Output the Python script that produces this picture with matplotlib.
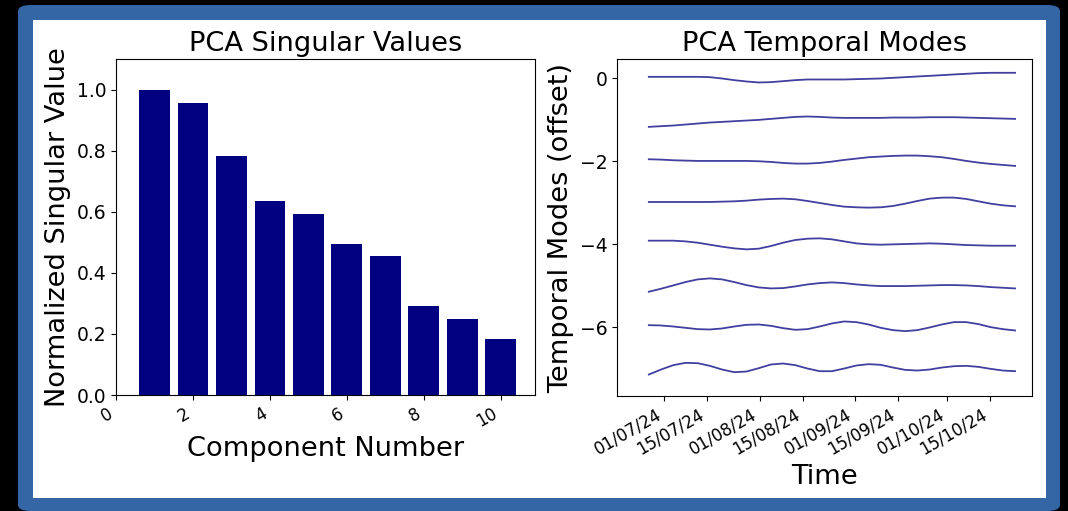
import numpy as np
import pandas as pd
import matplotlib
matplotlib.use("Agg")
import matplotlib.pyplot as plt
import matplotlib.dates as mdates
from matplotlib.patches import FancyBboxPatch, Rectangle

# singular values (normalized)
components = [1, 2, 3, 4, 5, 6, 7, 8, 9, 10]
singular_vals = [1.0, 0.957, 0.783, 0.634, 0.594, 0.495, 0.456, 0.293, 0.249, 0.184]

# temporal modes, sampled every ~4 days
dates = pd.date_range("2024-06-26", "2024-10-23", periods=31)

mode0 = [0.031, 0.031, 0.031, 0.031, 0.031, 0.023, -0.009, -0.049, -0.081, -0.105,
         -0.097, -0.073, -0.049, -0.033, -0.033, -0.033, -0.033, -0.025, -0.017, -0.009,
         0.007, 0.023, 0.039, 0.055, 0.071, 0.088, 0.104, 0.120, 0.128, 0.128, 0.128]
mode1 = [-0.173, -0.157, -0.141, -0.117, -0.093, -0.069, -0.053, -0.037, -0.021, -0.005,
         0.019, 0.043, 0.067, 0.076, 0.067, 0.051, 0.043, 0.043, 0.043, 0.043,
         0.051, 0.051, 0.051, 0.059, 0.059, 0.059, 0.051, 0.043, 0.035, 0.027, 0.019]
mode2 = [0.047, 0.039, 0.023, 0.015, 0.007, 0.007, 0.007, 0.007, 0.007, -0.001,
         -0.017, -0.041, -0.057, -0.057, -0.041, -0.009, 0.031, 0.063, 0.096, 0.112,
         0.128, 0.136, 0.136, 0.120, 0.096, 0.055, 0.007, -0.033, -0.065, -0.089, -0.113]
mode3 = [0.019, 0.019, 0.019, 0.019, 0.019, 0.019, 0.027, 0.035, 0.051, 0.076,
         0.092, 0.100, 0.084, 0.043, -0.005, -0.053, -0.093, -0.109, -0.117, -0.109,
         -0.077, -0.021, 0.043, 0.100, 0.124, 0.124, 0.092, 0.035, -0.021, -0.061, -0.085]
mode4 = [0.088, 0.088, 0.088, 0.071, 0.039, -0.009, -0.057, -0.097, -0.121, -0.105,
         -0.041, 0.039, 0.104, 0.136, 0.144, 0.120, 0.071, 0.023, -0.001, -0.009,
         -0.001, 0.007, 0.015, 0.023, 0.015, -0.001, -0.017, -0.025, -0.033, -0.033, -0.033]
mode5 = [-0.141, -0.069, 0.011, 0.092, 0.156, 0.180, 0.156, 0.092, 0.019, -0.037,
         -0.061, -0.053, -0.013, 0.035, 0.067, 0.084, 0.067, 0.035, 0.011, -0.005,
         -0.005, -0.005, 0.003, 0.011, 0.019, 0.019, 0.011, -0.005, -0.029, -0.045, -0.061]
mode6 = [0.055, 0.047, 0.023, -0.009, -0.041, -0.049, -0.025, 0.023, 0.063, 0.071,
         0.039, -0.017, -0.057, -0.041, 0.023, 0.096, 0.144, 0.128, 0.071, -0.009,
         -0.065, -0.089, -0.065, -0.001, 0.071, 0.128, 0.128, 0.080, 0.007, -0.041, -0.073]
mode7 = [-0.133, -0.013, 0.092, 0.148, 0.140, 0.076, -0.013, -0.077, -0.061, 0.019,
         0.108, 0.132, 0.092, 0.011, -0.053, -0.053, 0.011, 0.084, 0.116, 0.100,
         0.035, -0.021, -0.037, -0.013, 0.035, 0.067, 0.076, 0.051, 0.003, -0.037, -0.053]
modes = [mode0, mode1, mode2, mode3, mode4, mode5, mode6, mode7]

big = 19.6

fig = plt.figure(figsize=(10.68, 5.11), dpi=100, facecolor="black")

# blue frame with white panel (behind the axes)
fig.patches.append(FancyBboxPatch((18 / 1068, 0.0), 1042 / 1068, 506 / 511,
                                  boxstyle="round,pad=0,rounding_size=0.012",
                                  transform=fig.transFigure, facecolor="#3465a4",
                                  edgecolor="none", zorder=-2))
fig.patches.append(Rectangle((33 / 1068, 13 / 511), 1013 / 1068, 478 / 511,
                             transform=fig.transFigure, facecolor="white",
                             edgecolor="none", zorder=-1))

ax1 = fig.add_axes([116 / 1068, 116 / 511, 419 / 1068, 336 / 511])
ax2 = fig.add_axes([617 / 1068, 115 / 511, 415 / 1068, 337 / 511])

ax1.bar(components, singular_vals, width=0.8, color="navy")
ax1.set_xlim(0, 10.89)
ax1.set_ylim(0, 1.1)
ax1.set_title("PCA Singular Values", fontsize=big)
ax1.set_xlabel("Component Number", fontsize=big)
ax1.set_ylabel("Normalized Singular Value", fontsize=big)
ax1.tick_params(axis="y", labelsize=13.5)
ax1.tick_params(axis="x", labelsize=12)
for lab in ax1.get_xticklabels():
    lab.set_rotation(30)
    lab.set_ha("right")

for i, m in enumerate(modes):
    ax2.plot(dates, np.array(m) - i, color="navy", alpha=0.75, lw=1.3)
ax2.set_xlim(pd.Timestamp("2024-06-15 16:00"), pd.Timestamp("2024-10-28 12:00"))
ax2.set_ylim(-7.65, 0.46)
ax2.set_yticks([0, -2, -4, -6])
ax2.xaxis.set_major_locator(mdates.DayLocator(bymonthday=[1, 15]))
ax2.xaxis.set_major_formatter(mdates.DateFormatter("%d/%m/%y"))
ax2.set_title("PCA Temporal Modes", fontsize=big)
ax2.set_xlabel("Time", fontsize=big)
ax2.set_ylabel("Temporal Modes (offset)", fontsize=big)
ax2.tick_params(axis="y", labelsize=13.5)
ax2.tick_params(axis="x", labelsize=12)
for lab in ax2.get_xticklabels():
    lab.set_rotation(30)
    lab.set_ha("right")

fig.savefig("out.png", dpi=100, facecolor=fig.get_facecolor())
